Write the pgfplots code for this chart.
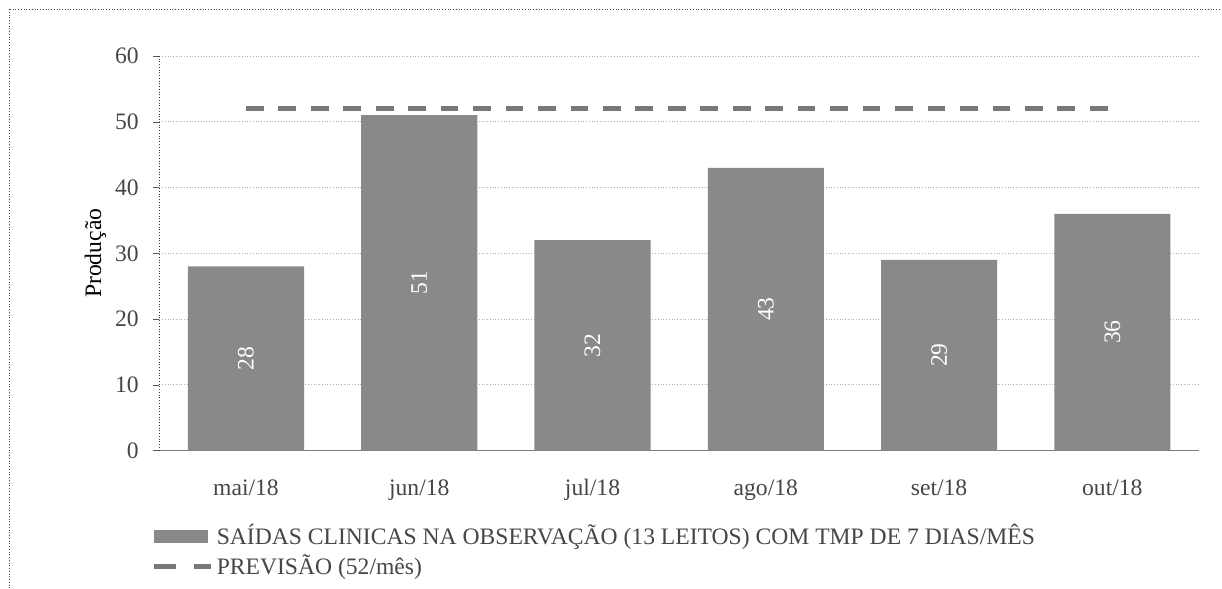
\documentclass[border=0pt]{standalone}
\usepackage{fontspec}
\setmainfont{Liberation Serif}
\usepackage{pgfplots}
\usepackage{pgfplotstable}
\pgfplotsset{compat=1.18}

\definecolor{barfill}{RGB}{137,137,137}
\definecolor{txt}{RGB}{70,70,70}
\definecolor{dashc}{RGB}{120,120,120}

\pgfplotstableread{
x v
0 28
1 51
2 32
3 43
4 29
5 36
}\saidas

\pgfplotstableread{
x v
0 52
1 52
2 52
3 52
4 52
5 52
}\previsao

\begin{document}
\begin{tikzpicture}[font=\fontsize{12}{14}\selectfont]
  \begin{axis}[
      at={(0,0)}, anchor=south west,
      scale only axis,
      width=528.5pt, height=200.5pt,
      xmin=-0.5, xmax=5.5,
      ymin=0, ymax=60,
      ytick={0,10,...,60},
      xtick={0,...,5},
      xticklabels={mai/18,jun/18,jul/18,ago/18,set/18,out/18},
      major x tick style={draw=none},
      extra x ticks={-0.5,0.5,...,5.5},
      extra x tick labels={},
      extra x tick style={grid=none, tick style={draw=gray!70!black}, major tick length=5pt},
      axis x line*=bottom, axis y line*=left,
      axis line style={-, gray!70!black},
      x axis line style={gray},
      y axis line style={densely dotted, gray!40!black},
      tick align=outside,
      major tick length=3pt,
      ytick style={gray!70!black},
      ymajorgrids,
      grid style={densely dotted, gray!60},
      tick label style={text=txt},
      /pgf/number format/assume math mode=true,
      yticklabel style={xshift=-4pt},
      xticklabel style={yshift=-8pt, text height=1.8ex, text depth=0.4ex},
      ylabel={Produção},
      ylabel style={text=txt},
      every axis y label/.style={at={(axis description cs:0,0.5)}, xshift=-32.5pt, rotate=90, anchor=center},
      legend cell align=left,
      legend style={at={(axis description cs:0,0)}, anchor=north west,
        xshift=-4pt, yshift=-36pt, draw=none, fill=none, inner sep=0pt,
        text=txt, row sep=0.5pt,
        nodes={inner sep=1.5pt}},
    ]
    \addplot[ybar, bar width=0.67, fill=barfill, draw=none,
      legend image code/.code={\fill[barfill] (0pt,-3.25pt) rectangle (27.5pt,3.25pt);}]
      table[x=x, y=v] {\saidas};
    \addlegendentry{SAÍDAS CLINICAS NA OBSERVAÇÃO (13 LEITOS) COM TMP DE 7 DIAS/MÊS}

    \addplot[dashc, line width=2.5pt, dash pattern=on 9pt off 7.5pt,
      legend image code/.code={\draw[dashc, line width=2.5pt, dash pattern=on 11pt off 9pt] (0pt,0pt) -- (29pt,0pt);}]
      table[x=x, y=v] {\previsao};
    \addlegendentry{PREVISÃO (52/mês)}

    \addplot[draw=none, forget plot, nodes near coords, point meta=explicit symbolic,
      every node near coord/.append style={rotate=90, anchor=center, text=white, font=\fontsize{12}{14}\selectfont}]
      table[x=x, y expr=\thisrow{v}/2, meta=v] {\saidas};
  \end{axis}
  \draw[densely dotted, gray!60!black] (-76pt,-70pt) -- (-76pt,224pt) -- (540pt,224pt);
  \useasboundingbox (-81pt,-65pt) rectangle (530pt,229pt);
\end{tikzpicture}
\end{document}
